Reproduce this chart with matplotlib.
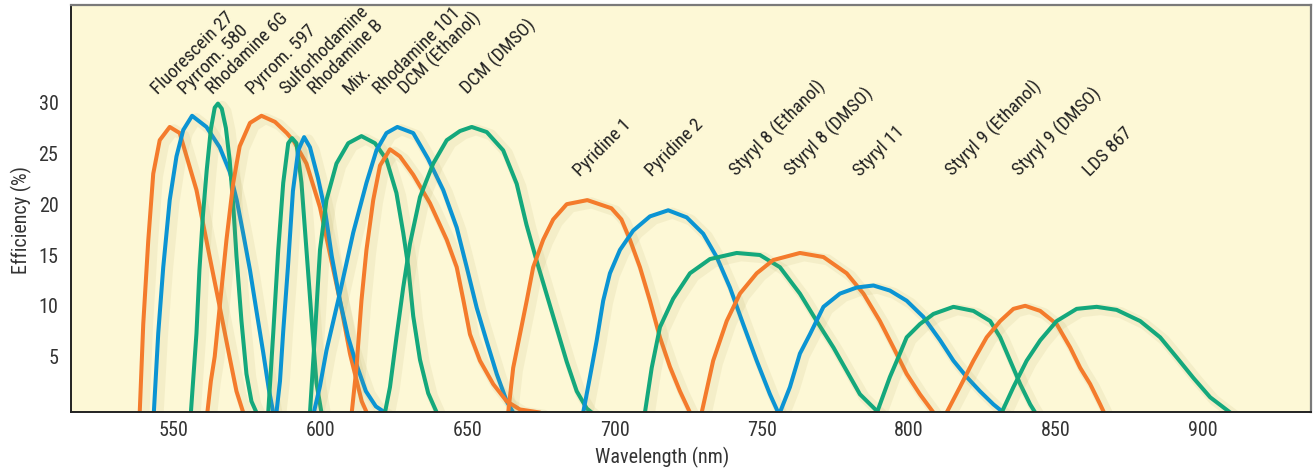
import matplotlib
matplotlib.use("Agg")
import matplotlib.pyplot as plt
import matplotlib.patheffects as pe

# wavelength (nm) / efficiency (%), one pair per dye
fluorescein27_nm = [538.4, 539.6, 541.3, 543.0, 545.2, 548.6, 552.0, 557.7, 562.2, 565.6, 569.0, 571.3, 573.6]
fluorescein27_eff = [-0.5, 8.2, 16.4, 23.0, 26.3, 27.6, 27.0, 21.4, 14.8, 9.9, 4.9, 1.6, -0.5]

pyrrom580_nm = [543.2, 544.7, 546.4, 548.6, 550.9, 553.2, 556.2, 561.1, 565.6, 569.0, 571.4, 573.6, 575.9, 578.1, 580.4, 582.3, 583.8]
pyrrom580_eff = [-0.5, 7.3, 13.8, 20.4, 24.7, 27.3, 28.7, 27.6, 25.6, 23.2, 20.4, 17.1, 13.5, 9.5, 5.4, 1.8, -0.5]

rhodamine6g_nm = [555.8, 557.7, 558.7, 559.9, 561.2, 562.6, 563.9, 565.0, 566.3, 567.7, 569.0, 570.2, 571.3, 573.0, 574.7, 576.4, 578.1]
rhodamine6g_eff = [-0.5, 7.3, 13.5, 18.9, 23.4, 27.4, 29.5, 29.9, 29.4, 27.5, 24.3, 19.9, 14.9, 8.5, 3.3, 0.6, -0.5]

pyrrom597_nm = [561.4, 562.6, 563.9, 565.6, 567.9, 570.2, 572.4, 575.9, 579.8, 584.4, 588.4, 590.8, 595.1, 599.7, 603.1, 606.5, 609.9, 612.2, 613.9, 615.6]
pyrrom597_eff = [-0.5, 2.6, 5.0, 9.9, 16.5, 22.1, 25.7, 28.0, 28.7, 28.1, 27.0, 26.2, 24.0, 19.7, 15.1, 10.5, 5.3, 2.6, 0.6, -0.5]

sulforhodamine_nm = [582.1, 583.8, 585.5, 587.2, 588.9, 590.2, 591.7, 593.4, 595.1, 596.8, 598.5, 600.2]
sulforhodamine_eff = [-0.5, 7.3, 15.5, 22.1, 26.0, 26.5, 26.0, 22.1, 15.5, 8.9, 2.4, -0.5]

rhodamineb_nm = [584.9, 586.1, 587.2, 588.8, 590.5, 592.3, 594.3, 596.3, 599.0, 601.4, 603.7, 606.5, 609.2, 611.9, 615.3, 618.7, 621.8]
rhodamineb_eff = [-0.5, 2.6, 7.5, 13.8, 21.3, 25.3, 26.6, 25.6, 22.6, 19.4, 14.9, 10.5, 7.0, 4.4, 1.6, 0.1, -0.5]

mix_nm = [596.3, 598.0, 599.7, 601.9, 605.3, 609.3, 613.8, 618.4, 622.3, 625.7, 628.0, 629.7, 631.4, 633.7, 636.5, 639.4]
mix_eff = [-0.5, 7.3, 15.5, 20.4, 24.0, 26.0, 26.7, 26.0, 24.4, 21.1, 17.2, 13.9, 9.0, 4.7, 1.4, -0.5]

rhodamine101_nm = [597.6, 599.7, 601.9, 606.5, 611.0, 615.5, 618.9, 622.3, 626.0, 631.4, 636.4, 641.6, 646.2, 649.6, 653.0, 656.4, 659.8, 663.2, 665.4]
rhodamine101_eff = [-0.5, 2.1, 5.6, 11.3, 17.2, 22.1, 25.3, 27.0, 27.6, 27.0, 24.5, 21.4, 17.7, 13.8, 9.8, 6.5, 3.3, 0.6, -0.5]

dcm_ethanol_nm = [610.5, 612.1, 613.8, 615.5, 617.8, 620.1, 623.5, 626.9, 631.4, 637.1, 642.8, 646.2, 648.5, 650.7, 654.1, 658.6, 663.2, 667.7, 674.5]
dcm_ethanol_eff = [-0.5, 3.9, 10.5, 15.5, 20.4, 23.8, 25.4, 24.7, 22.9, 20.1, 16.5, 13.8, 10.5, 7.2, 4.6, 2.3, 0.6, -0.2, -0.5]

dcm_dmso_nm = [621.8, 623.5, 625.7, 628.0, 630.3, 633.7, 638.2, 642.8, 647.3, 651.3, 656.4, 662.0, 666.6, 669.9, 673.4, 676.8, 680.2, 683.6, 687.0, 690.4, 692.1]
dcm_dmso_eff = [-0.5, 2.0, 6.9, 11.8, 16.1, 20.7, 24.0, 26.3, 27.2, 27.6, 27.1, 25.3, 22.0, 18.0, 14.4, 11.1, 7.8, 4.5, 1.6, -0.1, -0.5]

pyridine1_nm = [663.7, 665.4, 667.7, 670.0, 672.2, 675.6, 679.0, 683.6, 690.6, 698.8, 702.2, 705.1, 708.5, 711.9, 715.3, 718.7, 722.1, 725.5]
pyridine1_eff = [-0.5, 3.9, 7.2, 10.5, 13.8, 16.5, 18.5, 20.0, 20.4, 19.6, 18.5, 16.5, 13.8, 10.5, 6.9, 4.0, 1.6, -0.5]

pyridine2_nm = [689.2, 691.5, 693.8, 696.0, 698.3, 701.7, 706.2, 711.9, 718.1, 724.4, 730.0, 734.6, 739.1, 743.6, 748.2, 752.7, 755.5]
pyridine2_eff = [-0.5, 3.0, 6.6, 10.5, 13.2, 15.5, 17.4, 18.8, 19.4, 18.7, 17.1, 14.8, 11.8, 8.2, 4.6, 1.3, -0.5]

styryl8_ethanol_nm = [710.2, 712.5, 715.3, 719.8, 725.5, 732.3, 741.4, 749.3, 756.1, 762.9, 768.6, 774.3, 778.8, 783.3, 789.6]
styryl8_ethanol_eff = [-0.5, 3.9, 7.9, 10.7, 13.2, 14.6, 15.2, 15.0, 13.8, 11.2, 8.5, 5.9, 3.6, 1.3, -0.5]

styryl8_dmso_nm = [729.5, 733.4, 738.0, 742.5, 748.2, 753.8, 762.9, 770.9, 778.8, 784.5, 790.1, 794.7, 799.2, 803.7, 808.3]
styryl8_dmso_eff = [-0.5, 4.6, 8.5, 11.2, 13.2, 14.5, 15.2, 14.8, 13.2, 11.2, 8.5, 5.9, 3.3, 1.3, -0.5]

styryl11_nm = [756.1, 759.5, 762.9, 766.3, 770.9, 776.5, 782.2, 787.9, 793.5, 799.2, 804.9, 810.6, 815.1, 819.6, 824.1, 828.7, 832.1]
styryl11_eff = [-0.5, 2.0, 5.3, 7.2, 9.9, 11.2, 11.8, 12.0, 11.5, 10.5, 8.9, 6.6, 4.6, 3.0, 1.6, 0.3, -0.5]

styryl9_ethanol_nm = [789.1, 793.5, 796.9, 799.2, 803.7, 808.3, 815.1, 821.9, 827.6, 831.0, 834.4, 837.8, 841.2, 842.9]
styryl9_ethanol_eff = [-0.5, 3.0, 5.3, 6.9, 8.2, 9.2, 9.9, 9.5, 8.5, 6.9, 4.6, 2.3, 0.3, -0.5]

styryl9_dmso_nm = [812.8, 817.3, 821.9, 826.4, 831.0, 835.5, 839.5, 844.6, 850.2, 854.8, 858.2, 861.6, 865.0, 866.3]
styryl9_dmso_eff = [-0.5, 2.0, 4.6, 6.9, 8.5, 9.7, 10.0, 9.5, 8.2, 5.9, 3.9, 2.3, 0.3, -0.5]

lds867_nm = [831.5, 835.5, 840.0, 844.6, 850.2, 857.0, 863.8, 870.6, 878.6, 885.4, 891.1, 896.7, 902.4, 909.2]
lds867_eff = [-0.5, 2.0, 4.6, 6.6, 8.5, 9.7, 9.9, 9.6, 8.5, 6.9, 4.9, 2.9, 1.0, -0.5]

# dye names and where their rotated labels start (nm, %)
dye_names = ["Fluorescein 27", "Pyrrom. 580", "Rhodamine 6G", "Pyrrom. 597", "Sulforhodamine",
             "Rhodamine B", "Mix.", "Rhodamine 101", "DCM (Ethanol)", "DCM (DMSO)",
             "Pyridine 1", "Pyridine 2", "Styryl 8 (Ethanol)", "Styryl 8 (DMSO)", "Styryl 11",
             "Styryl 9 (Ethanol)", "Styryl 9 (DMSO)", "LDS 867"]
label_nm = [544.7, 553.7, 563.4, 577.0, 588.3, 598.0, 609.9, 620.1, 629.1, 650.1,
            688.1, 712.5, 741.4, 760.1, 783.3, 815.1, 837.8, 861.6]
label_eff = [30.76] * 10 + [22.7] * 8

ORANGE = "#f47b2c"
BLUE = "#0b94d3"
GREEN = "#14a87c"

curves = [
    (fluorescein27_nm, fluorescein27_eff, ORANGE),
    (pyrrom580_nm, pyrrom580_eff, BLUE),
    (rhodamine6g_nm, rhodamine6g_eff, GREEN),
    (pyrrom597_nm, pyrrom597_eff, ORANGE),
    (sulforhodamine_nm, sulforhodamine_eff, GREEN),
    (rhodamineb_nm, rhodamineb_eff, BLUE),
    (mix_nm, mix_eff, GREEN),
    (rhodamine101_nm, rhodamine101_eff, BLUE),
    (dcm_ethanol_nm, dcm_ethanol_eff, ORANGE),
    (dcm_dmso_nm, dcm_dmso_eff, GREEN),
    (pyridine1_nm, pyridine1_eff, ORANGE),
    (pyridine2_nm, pyridine2_eff, BLUE),
    (styryl8_ethanol_nm, styryl8_ethanol_eff, GREEN),
    (styryl8_dmso_nm, styryl8_dmso_eff, ORANGE),
    (styryl11_nm, styryl11_eff, BLUE),
    (styryl9_ethanol_nm, styryl9_ethanol_eff, GREEN),
    (styryl9_dmso_nm, styryl9_dmso_eff, ORANGE),
    (lds867_nm, lds867_eff, GREEN),
]

plt.rcParams['font.family'] = ['Roboto Condensed', 'Liberation Sans Narrow', 'DejaVu Sans']

fig = plt.figure(figsize=(13.13, 4.69), dpi=100)
ax = fig.add_axes([0.054, 0.1226, 0.9445, 0.8667])
ax.set_facecolor("#fdf8d6")

# faint olive shadow under each curve, like the original artwork
shadow = [pe.SimpleLineShadow(offset=(3, -2), shadow_color="#a89c50", alpha=0.1, linewidth=8),
          pe.Normal()]
for nm, eff, col in curves:
    ax.plot(nm, eff, color=col, lw=2.9, solid_joinstyle="round",
            solid_capstyle="round", path_effects=shadow)

for name, x, y in zip(dye_names, label_nm, label_eff):
    ax.text(x, y, name, rotation=45, rotation_mode="anchor", ha="left", va="baseline",
            fontsize=13.5, color="#222222")

ax.set_xlim(515, 936.7)
ax.set_ylim(-0.4, 39.6)
ax.set_xticks(range(550, 901, 50))
ax.set_yticks([5, 10, 15, 20, 25, 30])
ax.tick_params(length=0, labelsize=14.5, labelcolor="#333333")
ax.tick_params(axis="x", pad=7)
ax.tick_params(axis="y", pad=9)

ax.set_xlabel("Wavelength (nm)", fontsize=14.5, color="#333333")
ax.set_ylabel("Efficiency (%)", fontsize=14.5, color="#333333")
ax.xaxis.set_label_coords(0.477, -0.088)
ax.yaxis.set_label_coords(-0.031, 0.472)

for side in ["top", "right"]:
    ax.spines[side].set_color("#7a7a7a")
    ax.spines[side].set_linewidth(1.6)
for side in ["left", "bottom"]:
    ax.spines[side].set_color("#222222")
    ax.spines[side].set_linewidth(1.4)

fig.savefig("out.png", dpi=100)
